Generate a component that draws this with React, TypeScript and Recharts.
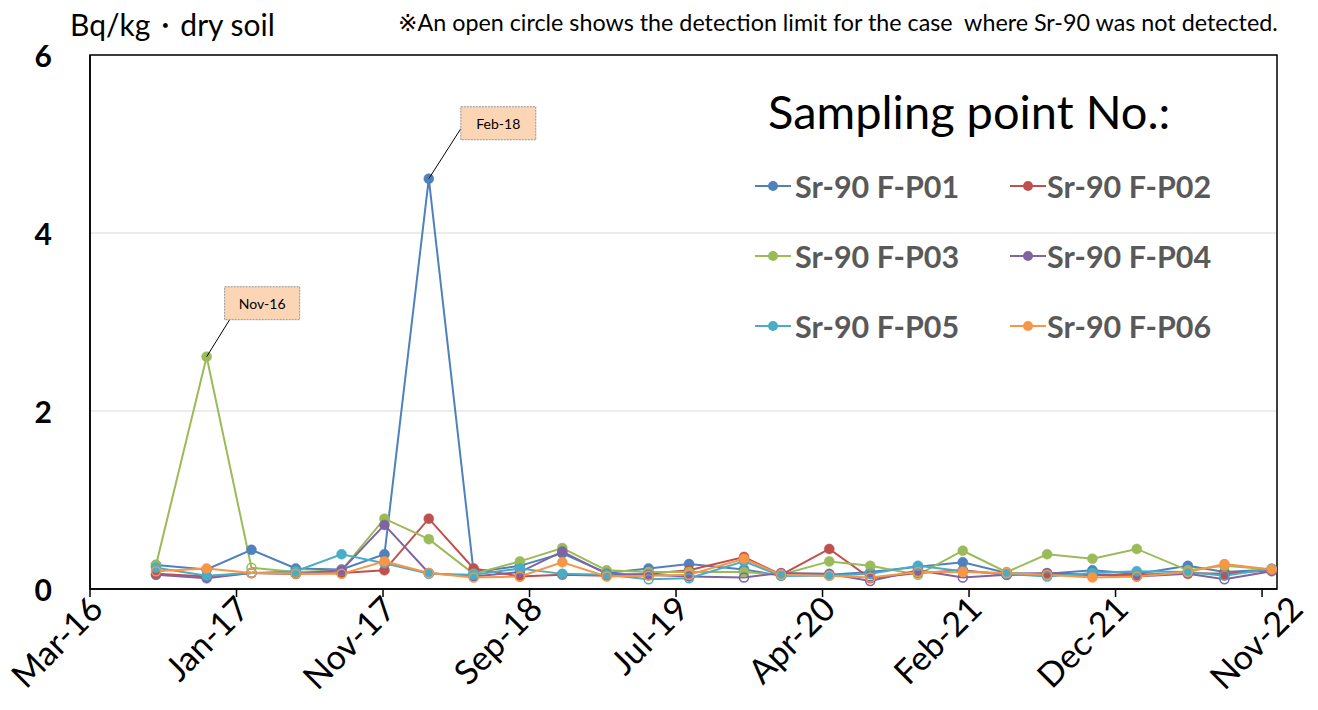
import React from 'react';
import { LineChart, Line, XAxis, YAxis, CartesianGrid, ReferenceArea, Legend } from 'recharts';

// ---------------- data ----------------
const AXIS_START = '2016-03-15';
const AXIS_END_DAY = 2463;

const xTickDays = [0, 304, 608, 912, 1216, 1520, 1824, 2128, 2432];
const xTickLabels = ['Mar-16', 'Jan-17', 'Nov-17', 'Sep-18', 'Jul-19', 'Apr-20', 'Feb-21', 'Dec-21', 'Nov-22'];
const yTicks = [0, 2, 4, 6];

const sampleDates = [
  '2016-07-30', '2016-11-12', '2017-02-13', '2017-05-16', '2017-08-19', '2017-11-16',
  '2018-02-16', '2018-05-20', '2018-08-24', '2018-11-20', '2019-02-20', '2019-05-18',
  '2019-08-10', '2019-12-02', '2020-02-17', '2020-05-27', '2020-08-20', '2020-11-27',
  '2021-02-28', '2021-05-30', '2021-08-22', '2021-11-24', '2022-02-24', '2022-06-10',
  '2022-08-25', '2022-12-01',
];

const p01 = [0.27, 0.22, 0.44, 0.23, 0.22, 0.39, 4.61, 0.19, 0.26, 0.40, 0.18, 0.23, 0.28, 0.22, 0.15, 0.16, 0.19, 0.25, 0.30, 0.18, 0.17, 0.21, 0.17, 0.26, 0.19, 0.22];
const p02 = [0.17, 0.14, 0.18, 0.17, 0.18, 0.21, 0.79, 0.23, 0.14, 0.16, 0.15, 0.17, 0.21, 0.36, 0.16, 0.45, 0.12, 0.18, 0.21, 0.16, 0.16, 0.16, 0.16, 0.18, 0.17, 0.21];
const p03 = [0.27, 2.61, 0.24, 0.19, 0.21, 0.79, 0.56, 0.17, 0.31, 0.46, 0.21, 0.19, 0.19, 0.19, 0.16, 0.31, 0.26, 0.16, 0.43, 0.19, 0.39, 0.34, 0.45, 0.21, 0.26, 0.22];
const p04 = [0.16, 0.12, 0.18, 0.17, 0.21, 0.72, 0.18, 0.14, 0.19, 0.42, 0.17, 0.16, 0.14, 0.13, 0.18, 0.17, 0.09, 0.21, 0.13, 0.16, 0.18, 0.16, 0.14, 0.17, 0.11, 0.20];
const p05 = [0.24, 0.15, 0.18, 0.20, 0.39, 0.29, 0.17, 0.16, 0.23, 0.17, 0.16, 0.11, 0.12, 0.31, 0.15, 0.15, 0.17, 0.26, 0.20, 0.17, 0.14, 0.18, 0.20, 0.19, 0.15, 0.23];
const p06 = [0.20, 0.23, 0.18, 0.17, 0.17, 0.31, 0.18, 0.13, 0.14, 0.30, 0.14, 0.15, 0.16, 0.34, 0.16, 0.15, 0.13, 0.19, 0.19, 0.18, 0.16, 0.13, 0.14, 0.19, 0.28, 0.22];

// indices of samples where Sr-90 was not detected (open circle = detection limit)
const nd01: number[] = [];
const nd02 = [2, 16];
const nd03 = [2, 17];
const nd04 = [0, 2, 3, 6, 13, 14, 15, 16, 18, 19, 20, 24];
const nd05 = [2, 11, 12, 16, 20, 24, 25];
const nd06 = [0, 2, 3, 4, 6, 7, 8, 10, 11, 12, 14, 15, 16, 17, 19, 20, 22, 23];

const seriesNames = ['Sr-90 F-P01', 'Sr-90 F-P02', 'Sr-90 F-P03', 'Sr-90 F-P04', 'Sr-90 F-P05', 'Sr-90 F-P06'];
const seriesKeys = ['p01', 'p02', 'p03', 'p04', 'p05', 'p06'];
const seriesColors = ['#4F81BD', '#C0504D', '#9BBB59', '#8064A2', '#4BACC6', '#F79646'];
const seriesValues = [p01, p02, p03, p04, p05, p06];
const seriesND = [nd01, nd02, nd03, nd04, nd05, nd06];

const annotationSeries = ['p03', 'p01'];
const annotationIndex = [1, 6];
const annotationText = ['Nov-16', 'Feb-18'];

// ---------------- helpers ----------------
const dayOf = (iso: string) => Math.round((Date.parse(iso) - Date.parse(AXIS_START)) / 86400000);

const data = sampleDates.map((d, i) => {
  const row: Record<string, number> = { day: dayOf(d) };
  seriesKeys.forEach((k, s) => {
    row[k] = seriesValues[s][i];
  });
  return row;
});

const FONT = 'Lato, "Open Sans", "DejaVu Sans", sans-serif';

// layout (style) of annotation callouts relative to their point
const calloutLayout: Record<string, { bx: number; by: number; lx: number; ly: number }> = {
  'Nov-16': { bx: 18, by: -70, lx: 23, ly: -37 },
  'Feb-18': { bx: 32, by: -72, lx: 32, ly: -50 },
};

const makeDot = (key: string, color: string, nd: number[]) => (props: any) => {
  const { cx, cy, index } = props;
  if (cx == null || cy == null) return <g key={`${key}-${index}`} />;
  const open = nd.includes(index);
  const annIdx = annotationSeries.findIndex((s, j) => s === key && annotationIndex[j] === index);
  let callout = null;
  if (annIdx >= 0) {
    const txt = annotationText[annIdx];
    const L = calloutLayout[txt];
    callout = (
      <g>
        <line x1={cx} y1={cy} x2={cx + L.lx} y2={cy + L.ly} stroke="#000" strokeWidth={1} />
        <rect x={cx + L.bx} y={cy + L.by} width={75} height={33} fill="#FCD5B5" stroke="#7F7F7F" strokeWidth={0.8} strokeDasharray="2 1" />
        <text x={cx + L.bx + 37.5} y={cy + L.by + 17} textAnchor="middle" dominantBaseline="central" fontSize={14} fontFamily={FONT} fill="#000">
          {txt}
        </text>
      </g>
    );
  }
  return (
    <g key={`${key}-${index}`}>
      {open ? (
        <circle cx={cx} cy={cy} r={4.5} fill="none" stroke={color} strokeWidth={1.5} />
      ) : (
        <circle cx={cx} cy={cy} r={5} fill={color} stroke={color} strokeWidth={0.5} />
      )}
      {callout}
    </g>
  );
};

const XTick = (props: any) => {
  const { x, y, payload } = props;
  const i = xTickDays.indexOf(payload.value);
  const shift = i === xTickDays.length - 1 ? 28 : 0;
  const ax = x + 15 + shift;
  const ay = y + 12;
  return (
    <text x={ax} y={ay} transform={`rotate(-45, ${ax}, ${ay})`} textAnchor="end" fontSize={34} fontFamily={FONT} fill="#000">
      {i >= 0 ? xTickLabels[i] : ''}
    </text>
  );
};

const YTick = (props: any) => {
  const { x, y, payload } = props;
  return (
    <text x={x} y={y} textAnchor="end" dominantBaseline="central" fontSize={30} fontWeight={700} fontFamily={FONT} fill="#000">
      {payload.value}
    </text>
  );
};

const LegendContent = () => {
  const rowTop = [171, 241, 311];
  const colSym = [755, 1010];
  const colText = [795, 1047];
  return (
    <div style={{ position: 'relative', width: 0, height: 0 }}>
      <div style={{ position: 'absolute', left: 768, top: 88, fontSize: 47, lineHeight: '47px', fontFamily: FONT, color: '#000', whiteSpace: 'nowrap' }}>
        Sampling point No.:
      </div>
      {seriesNames.map((name, i) => {
        const r = Math.floor(i / 2);
        const c = i % 2;
        return (
          <div key={name}>
            <svg style={{ position: 'absolute', left: colSym[c], top: rowTop[r] + 5 }} width={36} height={20}>
              <line x1={0} y1={10} x2={36} y2={10} stroke={seriesColors[i]} strokeWidth={2} />
              <circle cx={18} cy={10} r={5} fill={seriesColors[i]} />
            </svg>
            <div style={{ position: 'absolute', left: colText[c], top: rowTop[r], fontSize: 30.5, lineHeight: '30px', fontWeight: 700, fontFamily: FONT, color: '#595959', whiteSpace: 'nowrap' }}>
              {name}
            </div>
          </div>
        );
      })}
    </div>
  );
};

export default function App() {
  return (
    <div style={{ position: 'relative', width: 1318, height: 710, margin: '-8px 0 0 -8px', fontFamily: FONT }}>
      <div style={{ position: 'absolute', left: 70, top: 9, fontSize: 30, lineHeight: '30px', color: '#000', whiteSpace: 'nowrap' }}>
        Bq/kg・dry soil
      </div>
      <div style={{ position: 'absolute', left: 398, top: 11, fontSize: 23.3, lineHeight: '23px', color: '#000', whiteSpace: 'pre' }}>
        ※An open circle shows the detection limit for the case  where Sr-90 was not detected.
      </div>
      <LineChart width={1318} height={710} data={data} margin={{ top: 55, right: 41, bottom: 21, left: 30 }}>
        <CartesianGrid horizontal vertical={false} stroke="#D9D9D9" strokeWidth={1} />
        <XAxis
          dataKey="day"
          type="number"
          domain={[0, AXIS_END_DAY]}
          ticks={xTickDays}
          interval={0}
          height={100}
          tickSize={8}
          tickMargin={2}
          tickLine={{ stroke: '#000', strokeWidth: 1.5 }}
          axisLine={{ stroke: '#000', strokeWidth: 1.5 }}
          tick={<XTick />}
          allowDataOverflow
        />
        <YAxis
          type="number"
          domain={[0, 6]}
          ticks={yTicks}
          interval={0}
          width={60}
          tickSize={0}
          tickMargin={38}
          tickLine={false}
          axisLine={{ stroke: '#000', strokeWidth: 1.5 }}
          tick={<YTick />}
        />
        <ReferenceArea x1={0} x2={AXIS_END_DAY} y1={0} y2={6} fill="none" stroke="#000" strokeWidth={1.5} ifOverflow="extendDomain" />
        <Legend layout="horizontal" verticalAlign="middle" align="center" wrapperStyle={{ left: 0, top: 0, width: 0, height: 0 }} content={<LegendContent />} />
        {seriesKeys.map((k, i) => (
          <Line
            key={k}
            dataKey={k}
            name={seriesNames[i]}
            type="linear"
            stroke={seriesColors[i]}
            strokeWidth={2}
            dot={makeDot(k, seriesColors[i], seriesND[i])}
            activeDot={false}
            isAnimationActive={false}
          />
        ))}
      </LineChart>
    </div>
  );
}
